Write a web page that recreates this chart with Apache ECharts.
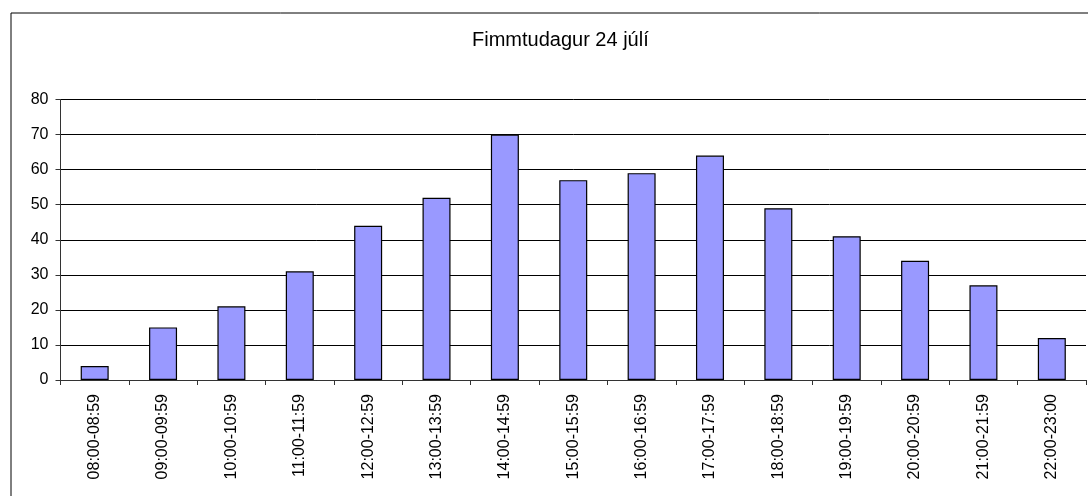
<!DOCTYPE html>
<html>
<head>
<meta charset="utf-8">
<script src="https://cdn.jsdelivr.net/npm/echarts@6/dist/echarts.min.js"></script>
<style>
	html, body { margin: 0; padding: 0; background: #fff; }
	#mychart { width: 1088px; height: 496px; }
</style>
</head>
<body>
<div id="mychart"></div>
<script>
// tímabil dagsins
var hours = ['08:00-08:59', '09:00-09:59', '10:00-10:59', '11:00-11:59', '12:00-12:59',
	'13:00-13:59', '14:00-14:59', '15:00-15:59', '16:00-16:59', '17:00-17:59',
	'18:00-18:59', '19:00-19:59', '20:00-20:59', '21:00-21:59', '22:00-23:00'];
var counts = [4, 15, 21, 31, 44, 52, 70, 57, 59, 64, 49, 41, 34, 27, 12];
var titleText = 'Fimmtudagur 24 júlí';
var yMin = 0, yMax = 80, yStep = 10;

var font = '"Liberation Sans", Arial, sans-serif';
var myChart = echarts.init(document.getElementById('mychart'));

var option = {
	animation: false,
	backgroundColor: '#fff',
	title: {
		text: titleText,
		left: 467,
		top: 25,
		textStyle: {
			fontFamily: font,
			fontSize: 20,
			fontWeight: 'normal',
			color: '#000'
		}
	},
	graphic: [{
		type: 'rect',
		shape: { x: 11, y: 13, width: 1200, height: 600 },
		style: { fill: 'none', stroke: '#000', lineWidth: 1 }
	}],
	grid: {
		left: 60.5,
		right: 2,
		top: 99.5,
		bottom: 116
	},
	xAxis: {
		type: 'category',
		data: hours,
		axisLine: { lineStyle: { color: '#333', width: 1 } },
		axisTick: { show: true, length: 5, alignWithLabel: false, lineStyle: { color: '#333' } },
		axisLabel: {
			rotate: 90,
			margin: 14,
			interval: 0,
			fontFamily: font,
			fontSize: 16,
			color: '#000'
		},
		splitLine: { show: false }
	},
	yAxis: {
		type: 'value',
		min: yMin,
		max: yMax,
		interval: yStep,
		axisLine: { show: true, lineStyle: { color: '#333', width: 1 } },
		axisTick: { show: true, length: 5, lineStyle: { color: '#333' } },
		axisLabel: {
			margin: 12,
			fontFamily: font,
			fontSize: 16,
			color: '#000'
		},
		splitLine: { show: true, lineStyle: { color: '#000', width: 1 } }
	},
	series: [{
		type: 'bar',
		data: counts,
		barWidth: 28,
		itemStyle: {
			color: '#9999ff',
			borderColor: '#000',
			borderWidth: 1.2
		}
	}]
};
myChart.setOption(option);
</script>
</body>
</html>
